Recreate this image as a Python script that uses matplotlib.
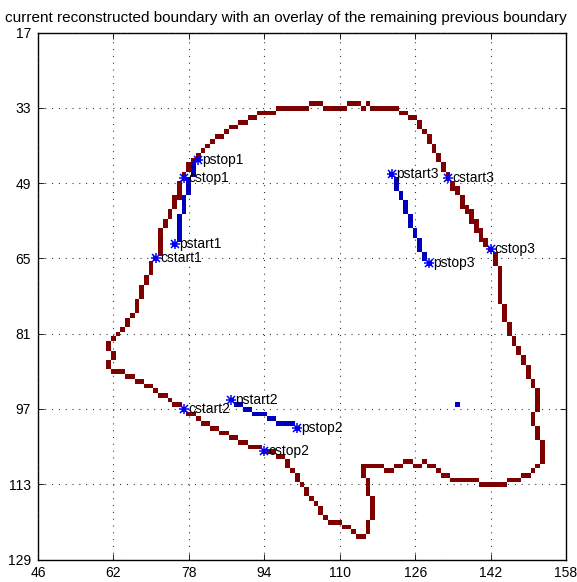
import numpy as np
import matplotlib
matplotlib.use('Agg')
import matplotlib.pyplot as plt

plt.rcParams['font.family'] = ['Liberation Sans', 'DejaVu Sans']
plt.rcParams['lines.scale_dashes'] = False

title = 'current reconstructed boundary with an overlay of the remaining previous boundary'
xticks = [46, 62, 78, 94, 110, 126, 142, 158]
yticks = [17, 33, 49, 65, 81, 97, 113, 129]

# current reconstructed boundary, pixel runs: (col_start, col_end, row_start, row_end)
current_runs = [
    (89, 90, 36, 36), (91, 92, 35, 35), (93, 96, 34, 34), (97, 103, 33, 33),
    (104, 106, 32, 32), (107, 111, 33, 33), (112, 114, 32, 32), (115, 115, 33, 33),
    (116, 116, 32, 32), (117, 122, 33, 33), (123, 124, 34, 34), (125, 126, 35, 35),
    (127, 127, 36, 37), (128, 128, 38, 38), (129, 129, 39, 40), (130, 130, 41, 42),
    (131, 131, 43, 44), (132, 132, 45, 46), (133, 133, 47, 48), (134, 134, 49, 50),
    (135, 135, 50, 51), (136, 136, 52, 54), (137, 137, 54, 55), (138, 138, 55, 57),
    (139, 139, 57, 59), (140, 140, 59, 61), (141, 141, 61, 62), (142, 142, 63, 63),
    (143, 143, 64, 66), (144, 144, 67, 74), (145, 145, 75, 78), (146, 146, 79, 81),
    (147, 147, 82, 83), (148, 148, 84, 85), (149, 149, 86, 87), (150, 150, 88, 90),
    (151, 151, 91, 92), (152, 152, 93, 97), (151, 151, 98, 100), (152, 152, 101, 103),
    (153, 153, 104, 108), (152, 152, 109, 109), (151, 151, 110, 110), (149, 150, 111, 111),
    (146, 148, 112, 112), (140, 145, 113, 113), (134, 139, 112, 112), (132, 133, 111, 111),
    (131, 131, 110, 110), (129, 130, 109, 109), (128, 128, 108, 108), (126, 127, 109, 109),
    (124, 125, 108, 108), (122, 123, 109, 109), (120, 121, 110, 110), (115, 119, 109, 109),
    (115, 115, 110, 111), (116, 116, 112, 115), (117, 117, 116, 120), (116, 116, 121, 123),
    (114, 115, 124, 124), (113, 113, 123, 123), (111, 112, 122, 122), (108, 110, 121, 121),
    (107, 107, 120, 120), (106, 106, 118, 119), (105, 105, 117, 117), (104, 104, 116, 116),
    (103, 103, 114, 115), (102, 102, 113, 113), (101, 101, 111, 112), (100, 100, 110, 110),
    (99, 99, 108, 109), (97, 98, 107, 107), (94, 96, 106, 106), (91, 93, 105, 105),
    (89, 90, 104, 104), (87, 88, 103, 103), (85, 86, 102, 102), (83, 84, 101, 101),
    (81, 82, 100, 100), (80, 80, 99, 99), (78, 79, 98, 98), (77, 77, 97, 97),
    (75, 76, 96, 96), (74, 74, 95, 95), (72, 73, 94, 94), (71, 71, 93, 93),
    (69, 70, 92, 92), (67, 68, 91, 91), (65, 66, 90, 90), (62, 64, 89, 89),
    (61, 61, 87, 88), (62, 62, 85, 86), (61, 61, 83, 84), (62, 62, 82, 82),
    (63, 63, 81, 81), (64, 64, 80, 80), (65, 65, 78, 79), (66, 66, 77, 77),
    (67, 67, 74, 76), (68, 68, 71, 73), (69, 69, 69, 70), (70, 70, 66, 68),
    (71, 71, 65, 65), (72, 72, 59, 64), (73, 73, 57, 58), (74, 74, 55, 56),
    (75, 75, 52, 54), (76, 76, 49, 52), (77, 77, 47, 48), (78, 78, 45, 46),
    (79, 79, 44, 44), (80, 80, 43, 43), (81, 81, 42, 42), (82, 82, 41, 41),
    (83, 83, 40, 40), (84, 85, 39, 39), (86, 86, 38, 38), (87, 88, 37, 37),
]

# remaining previous boundary, pixel runs
previous_runs = [
    (80, 80, 44, 44), (79, 79, 45, 47), (78, 78, 48, 51), (77, 77, 52, 55),
    (76, 76, 56, 61), (75, 75, 62, 62),
    (87, 87, 95, 95), (88, 89, 96, 96), (90, 91, 97, 97), (92, 94, 98, 98),
    (95, 96, 99, 99), (97, 100, 100, 100), (101, 101, 101, 101),
    (121, 121, 47, 47), (122, 122, 48, 50), (123, 123, 51, 52), (124, 124, 53, 55),
    (125, 125, 56, 58), (126, 126, 59, 60), (127, 127, 61, 63), (128, 128, 64, 65),
    (129, 129, 66, 66),
    (135, 135, 96, 96),
]

point_labels = ['cstart1', 'cstop1', 'pstart1', 'pstop1',
                'cstart2', 'cstop2', 'pstart2', 'pstop2',
                'cstart3', 'cstop3', 'pstart3', 'pstop3']
point_x = [71, 77, 75, 80, 77, 94, 87, 101, 133, 142, 121, 129]
point_y = [65, 48, 62, 44, 97, 106, 95, 101, 48, 63, 47, 66]

X0, X1, Y0, Y1 = 46, 158, 17, 129
RED = (0.50, 0.0, 0.0, 1.0)
BLUE = (0.0, 0.0, 0.74, 1.0)

img = np.zeros((Y1 - Y0 + 1, X1 - X0 + 1, 4))
for c0, c1, r0, r1 in current_runs:
    img[r0 - Y0:r1 - Y0 + 1, c0 - X0:c1 - X0 + 1] = RED
for c0, c1, r0, r1 in previous_runs:
    img[r0 - Y0:r1 - Y0 + 1, c0 - X0:c1 - X0 + 1] = BLUE

fig = plt.figure(figsize=(5.77, 5.82), dpi=100)
ax = fig.add_axes([38 / 577, 1 - 559.5 / 582, 528 / 577, 527 / 582])
ax.imshow(img, extent=(X0 - 0.5, X1 + 0.5, Y1 + 0.5, Y0 - 0.5),
          interpolation='nearest', aspect='auto', zorder=0)

ax.plot(point_x, point_y, linestyle='none', marker='+', color='#0000ff',
        markersize=7.5, markeredgewidth=1.1, zorder=4)
ax.plot(point_x, point_y, linestyle='none', marker='x', color='#0000ff',
        markersize=6, markeredgewidth=1.1, zorder=4)
for lab, x, y in zip(point_labels, point_x, point_y):
    ax.annotate(lab, (x, y), xytext=(3, 0), textcoords='offset points',
                ha='left', va='center', fontsize=10, color='black', zorder=3)

ax.set_xlim(X0, X1)
ax.set_ylim(Y1, Y0)
ax.set_xticks(xticks)
ax.set_yticks(yticks)
ax.set_xticklabels([str(v) for v in xticks])
ax.set_yticklabels([str(v) for v in yticks])
ax.tick_params(direction='in', length=4, width=0.6, top=True, right=True,
               labelsize=10, colors='black')
ax.tick_params(axis='x', pad=5)
ax.tick_params(axis='y', pad=5)
ax.set_axisbelow(False)
ax.grid(True, color='#222222', linestyle=(0, (0.7, 4.2)), linewidth=0.8)
for s in ax.spines.values():
    s.set_linewidth(1.0)
    s.set_color('black')
fig.text(5 / 577, 1 - 22 / 582, title, ha='left', va='baseline', fontsize=11)

fig.savefig('out.png', dpi=100)
